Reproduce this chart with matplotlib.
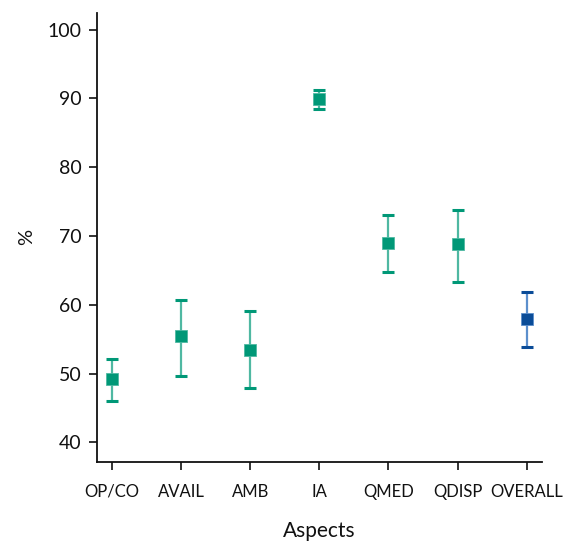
import matplotlib
matplotlib.use("Agg")
import matplotlib.pyplot as plt

categories = ["OP/CO", "AVAIL", "AMB", "IA", "QMED", "QDISP", "OVERALL"]
means = [49.2, 55.4, 53.4, 89.9, 69.0, 68.8, 57.9]
lower = [46.0, 49.7, 47.9, 88.4, 64.7, 63.3, 53.9]
upper = [52.1, 60.7, 59.1, 91.2, 73.0, 73.7, 61.8]
colors = ["#009877"] * 6 + ["#0a4c98"]
line_colors = ["#4fb8a2"] * 6 + ["#5c8fcc"]

plt.rcParams['font.family'] = ['Lato', 'DejaVu Sans']

fig = plt.figure(figsize=(5.63, 5.41), dpi=100)
ax = fig.add_axes([0.1723, 0.1466, 0.79, 0.8294])

for i, (m, lo, hi, c, lc) in enumerate(zip(means, lower, upper, colors, line_colors)):
    ax.errorbar([i], [m], yerr=[[m - lo], [hi - m]], fmt='none',
                ecolor=lc, elinewidth=1.6, capsize=0, zorder=2)
    ax.errorbar([i], [m], yerr=[[m - lo], [hi - m]], fmt='none',
                ecolor=c, elinewidth=0, capsize=4.5, capthick=2.2, zorder=2)
    ax.plot([i], [m], marker='s', markersize=8.5, color=c,
            markeredgecolor=lc, markeredgewidth=0.6, zorder=3)

ax.set_xlim(-0.22, 6.22)
ax.set_ylim(37.2, 102.4)
ax.set_yticks([40, 50, 60, 70, 80, 90, 100])
ax.set_xticks(range(len(categories)))
ax.set_xticklabels(categories)

for s in ['top', 'right']:
    ax.spines[s].set_visible(False)
for s in ['left', 'bottom']:
    ax.spines[s].set_linewidth(1.3)
    ax.spines[s].set_color('#111111')

ax.tick_params(axis='y', length=6, width=1.2, labelsize=14, pad=5, colors='#111111')
ax.tick_params(axis='x', length=6, width=1.2, labelsize=12.0, pad=10, colors='#111111')

ax.set_ylabel('%', fontsize=14.5, labelpad=9, color='#111111')
ax.set_xlabel('Aspects', fontsize=15, labelpad=15, color='#111111')

fig.savefig('out.png', dpi=100)
